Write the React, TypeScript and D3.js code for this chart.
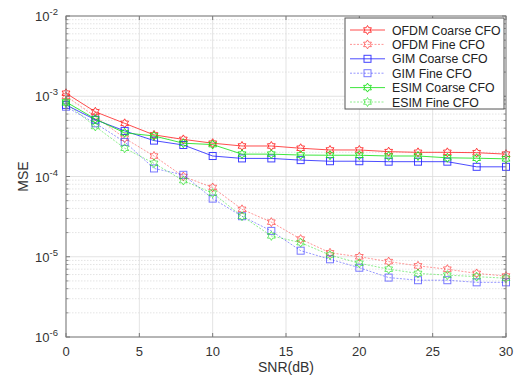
import * as d3 from "d3";

const snr = [0, 2, 4, 6, 8, 10, 12, 14, 16, 18, 20, 22, 24, 26, 28, 30];

const ofdmCoarse = [1.09e-3, 6.4e-4, 4.6e-4, 3.3e-4, 2.9e-4, 2.6e-4, 2.4e-4, 2.4e-4, 2.25e-4, 2.14e-4, 2.14e-4, 2.04e-4, 2.0e-4, 2.0e-4, 1.98e-4, 1.9e-4];
const ofdmFine = [1.0e-3, 5.6e-4, 3.0e-4, 1.8e-4, 1.0e-4, 7.3e-5, 3.9e-5, 2.7e-5, 1.66e-5, 1.12e-5, 1.0e-5, 8.7e-6, 7.7e-6, 7.0e-6, 6.2e-6, 5.75e-6];
const gimCoarse = [7.8e-4, 5.1e-4, 3.7e-4, 2.8e-4, 2.47e-4, 1.8e-4, 1.68e-4, 1.68e-4, 1.6e-4, 1.55e-4, 1.55e-4, 1.53e-4, 1.53e-4, 1.53e-4, 1.32e-4, 1.32e-4];
const gimFine = [7.4e-4, 4.6e-4, 2.7e-4, 1.26e-4, 1.05e-4, 5.3e-5, 3.2e-5, 2.1e-5, 1.19e-5, 9.3e-6, 7.3e-6, 5.5e-6, 5.1e-6, 5.1e-6, 4.8e-6, 4.8e-6];
const esimCoarse = [8.5e-4, 5.2e-4, 3.5e-4, 3.2e-4, 2.6e-4, 2.5e-4, 1.9e-4, 1.9e-4, 1.85e-4, 1.84e-4, 1.84e-4, 1.8e-4, 1.8e-4, 1.71e-4, 1.69e-4, 1.66e-4];
const esimFine = [8.2e-4, 4.2e-4, 2.25e-4, 1.46e-4, 8.9e-5, 6.2e-5, 3.2e-5, 1.82e-5, 1.5e-5, 1.05e-5, 8.3e-6, 7.0e-6, 6.2e-6, 5.9e-6, 5.65e-6, 5.4e-6];

const xTickValues = [0, 5, 10, 15, 20, 25, 30];
const yDecades = [-6, -5, -4, -3, -2];

interface Series {
  name: string;
  values: number[];
  color: string;
  marker: "hex" | "square";
  fine: boolean;
}

const series: Series[] = [
  { name: "OFDM Coarse CFO", values: ofdmCoarse, color: "#ff2020", marker: "hex", fine: false },
  { name: "OFDM Fine CFO", values: ofdmFine, color: "#ff3030", marker: "hex", fine: true },
  { name: "GIM Coarse CFO", values: gimCoarse, color: "#2020ff", marker: "square", fine: false },
  { name: "GIM Fine CFO", values: gimFine, color: "#3030ff", marker: "square", fine: true },
  { name: "ESIM Coarse CFO", values: esimCoarse, color: "#10e010", marker: "hex", fine: false },
  { name: "ESIM Fine CFO", values: esimFine, color: "#20e020", marker: "hex", fine: true },
];

const FONT = "'Liberation Sans', Arial, sans-serif";

function hexagram(r: number) {
  const pts: [number, number][] = [];
  const inner = r / Math.sqrt(3);
  for (let i = 0; i < 12; i++) {
    const a = (Math.PI / 6) * i - Math.PI / 2;
    const rr = i % 2 === 0 ? r : inner;
    pts.push([rr * Math.cos(a), rr * Math.sin(a)]);
  }
  return "M" + pts.map((p) => p.join(",")).join("L") + "Z";
}

function Marker({ kind, color, x, y, opacity }: { kind: string; color: string; x: number; y: number; opacity: number }) {
  if (kind === "square") {
    return (
      <rect x={x - 3.5} y={y - 3.5} width={7} height={7} fill="none" stroke={color} strokeWidth={1} opacity={opacity} />
    );
  }
  return (
    <path d={hexagram(4.5)} transform={`translate(${x},${y})`} fill="none" stroke={color} strokeWidth={1} opacity={opacity} />
  );
}

export default function App() {
  const width = 516;
  const height = 378;
  const margin = { top: 16, right: 10, bottom: 41, left: 66 };
  const innerWidth = width - margin.left - margin.right;
  const innerHeight = height - margin.top - margin.bottom;

  const x = d3.scaleLinear().domain([0, 30]).range([0, innerWidth]);
  const y = d3.scaleLog().domain([1e-6, 1e-2]).range([innerHeight, 0]);

  const minorTicks: number[] = [];
  yDecades.slice(0, -1).forEach((e) => {
    for (let m = 2; m <= 9; m++) minorTicks.push(m * Math.pow(10, e));
  });

  const line = d3
    .line<number>()
    .x((_, i) => x(snr[i]))
    .y((d) => y(d));

  const legendX = 345 - margin.left;
  const legendY = 18 - margin.top;

  return (
    <svg width={width} height={height} style={{ position: "absolute", left: 0, top: 0, fontFamily: FONT }}>
      <rect width={width} height={height} fill="#fff" />
      <g transform={`translate(${margin.left},${margin.top})`}>
        {/* minor grid */}
        {minorTicks.map((t) => (
          <line key={`mg${t}`} x1={0} x2={innerWidth} y1={y(t)} y2={y(t)} stroke="#d8d8d8" strokeWidth={0.7} strokeDasharray="1.5,1.5" />
        ))}
        {/* major grid */}
        {yDecades.map((e) => (
          <line key={`yg${e}`} x1={0} x2={innerWidth} y1={y(Math.pow(10, e))} y2={y(Math.pow(10, e))} stroke="#dcdcdc" strokeWidth={0.8} />
        ))}
        {xTickValues.map((t) => (
          <line key={`xg${t}`} x1={x(t)} x2={x(t)} y1={0} y2={innerHeight} stroke="#dcdcdc" strokeWidth={0.8} />
        ))}

        {/* series */}
        {series.map((s) => (
          <g key={s.name}>
            <path
              d={line(s.values) || ""}
              fill="none"
              stroke={s.color}
              strokeWidth={1}
              strokeDasharray={s.fine ? "2,1.5" : undefined}
              opacity={s.fine ? 0.5 : 0.8}
            />
            {s.values.map((v, i) => (
              <Marker key={i} kind={s.marker} color={s.color} x={x(snr[i])} y={y(v)} opacity={s.fine ? 0.65 : 0.85} />
            ))}
          </g>
        ))}

        {/* axes box */}
        <rect x={0} y={0} width={innerWidth} height={innerHeight} fill="none" stroke="#7a7a7a" strokeWidth={1} />
        {xTickValues.map((t) => (
          <g key={`xt${t}`}>
            <line x1={x(t)} x2={x(t)} y1={innerHeight} y2={innerHeight - 4} stroke="#7a7a7a" />
            <line x1={x(t)} x2={x(t)} y1={0} y2={4} stroke="#7a7a7a" />
            <text x={x(t)} y={innerHeight + 19} textAnchor="middle" fontSize={13} fill="#333">
              {t}
            </text>
          </g>
        ))}
        {minorTicks.map((t) => (
          <g key={`ymt${t}`}>
            <line x1={0} x2={2.5} y1={y(t)} y2={y(t)} stroke="#7a7a7a" strokeWidth={0.8} />
            <line x1={innerWidth} x2={innerWidth - 2.5} y1={y(t)} y2={y(t)} stroke="#7a7a7a" strokeWidth={0.8} />
          </g>
        ))}
        {yDecades.map((e) => (
          <g key={`yt${e}`}>
            <line x1={0} x2={4} y1={y(Math.pow(10, e))} y2={y(Math.pow(10, e))} stroke="#7a7a7a" />
            <line x1={innerWidth} x2={innerWidth - 4} y1={y(Math.pow(10, e))} y2={y(Math.pow(10, e))} stroke="#7a7a7a" />
            <text x={-8} y={y(Math.pow(10, e)) + 5} textAnchor="end" fontSize={13} fill="#333">
              10
              <tspan dy={-6} fontSize={9.5}>
                {e}
              </tspan>
            </text>
          </g>
        ))}

        {/* axis labels */}
        <text x={innerWidth / 2} y={innerHeight + 35} textAnchor="middle" fontSize={14} fill="#333">
          SNR(dB)
        </text>
        <text
          transform={`translate(${-38},${innerHeight / 2}) rotate(-90)`}
          textAnchor="middle"
          fontSize={14}
          fill="#333"
        >
          MSE
        </text>

        {/* legend */}
        <g transform={`translate(${legendX},${legendY})`}>
          <rect x={0} y={0} width={159} height={91} fill="#fff" stroke="#555" strokeWidth={1} />
          {series.map((s, i) => {
            const ly = 12 + i * 14.4;
            return (
              <g key={`lg${s.name}`}>
                <line
                  x1={5}
                  x2={40}
                  y1={ly}
                  y2={ly}
                  stroke={s.color}
                  strokeWidth={1}
                  strokeDasharray={s.fine ? "2,1.5" : undefined}
                  opacity={s.fine ? 0.5 : 0.8}
                />
                <Marker kind={s.marker} color={s.color} x={22.5} y={ly} opacity={s.fine ? 0.65 : 0.85} />
                <text x={47} y={ly + 4.5} fontSize={12.3} fill="#222">
                  {s.name}
                </text>
              </g>
            );
          })}
        </g>
      </g>
    </svg>
  );
}
